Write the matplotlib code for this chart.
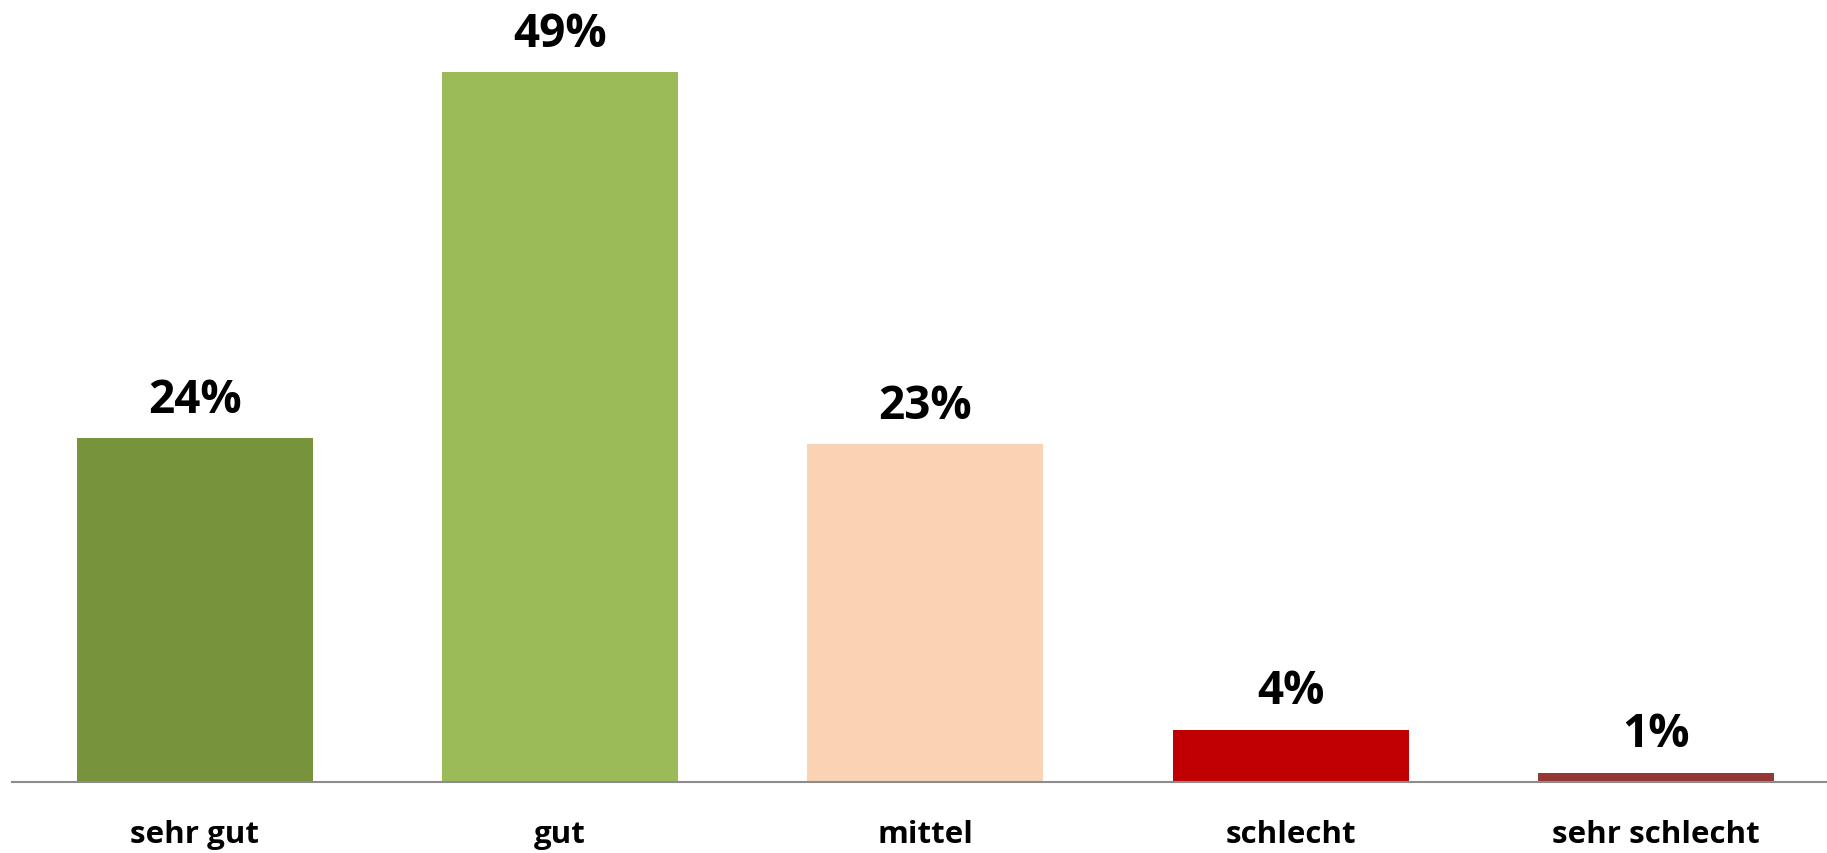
import matplotlib.pyplot as plt

# Bewertung der Befragten (in %)
categories = ['sehr gut', 'gut', 'mittel', 'schlecht', 'sehr schlecht']
values = [23.7, 48.9, 23.3, 3.6, 0.65]
labels = ['24%', '49%', '23%', '4%', '1%']
colors = ['#77933C', '#9BBB59', '#FAD3B4', '#C00000', '#953735']

plt.rcParams['font.family'] = ['Open Sans', 'DejaVu Sans']

fig = plt.figure(figsize=(18.27, 8.54), dpi=100)
ax = fig.add_axes([12 / 1827, 71 / 854, 5 * 365.3 / 1827, 783 / 854])

x = range(len(categories))
bars = ax.bar(x, values, width=0.646, color=colors)

for xi, v, lab in zip(x, values, labels):
    ax.annotate(lab, (xi, v), xytext=(0, 11), textcoords='offset points',
                ha='center', va='bottom', fontsize=33, fontweight='bold')

ax.set_xlim(-0.5, 4.5)
ax.set_ylim(0, 49 * 783 / 711)
ax.set_xticks(list(x))
ax.set_xticklabels(categories, fontsize=22.5, fontweight='bold')
ax.tick_params(axis='x', length=0, pad=27)
ax.set_yticks([])

for side in ['top', 'right', 'left']:
    ax.spines[side].set_visible(False)
ax.spines['bottom'].set_color('#8C8C8C')
ax.spines['bottom'].set_linewidth(1.5)

fig.savefig('out.png', dpi=100)
